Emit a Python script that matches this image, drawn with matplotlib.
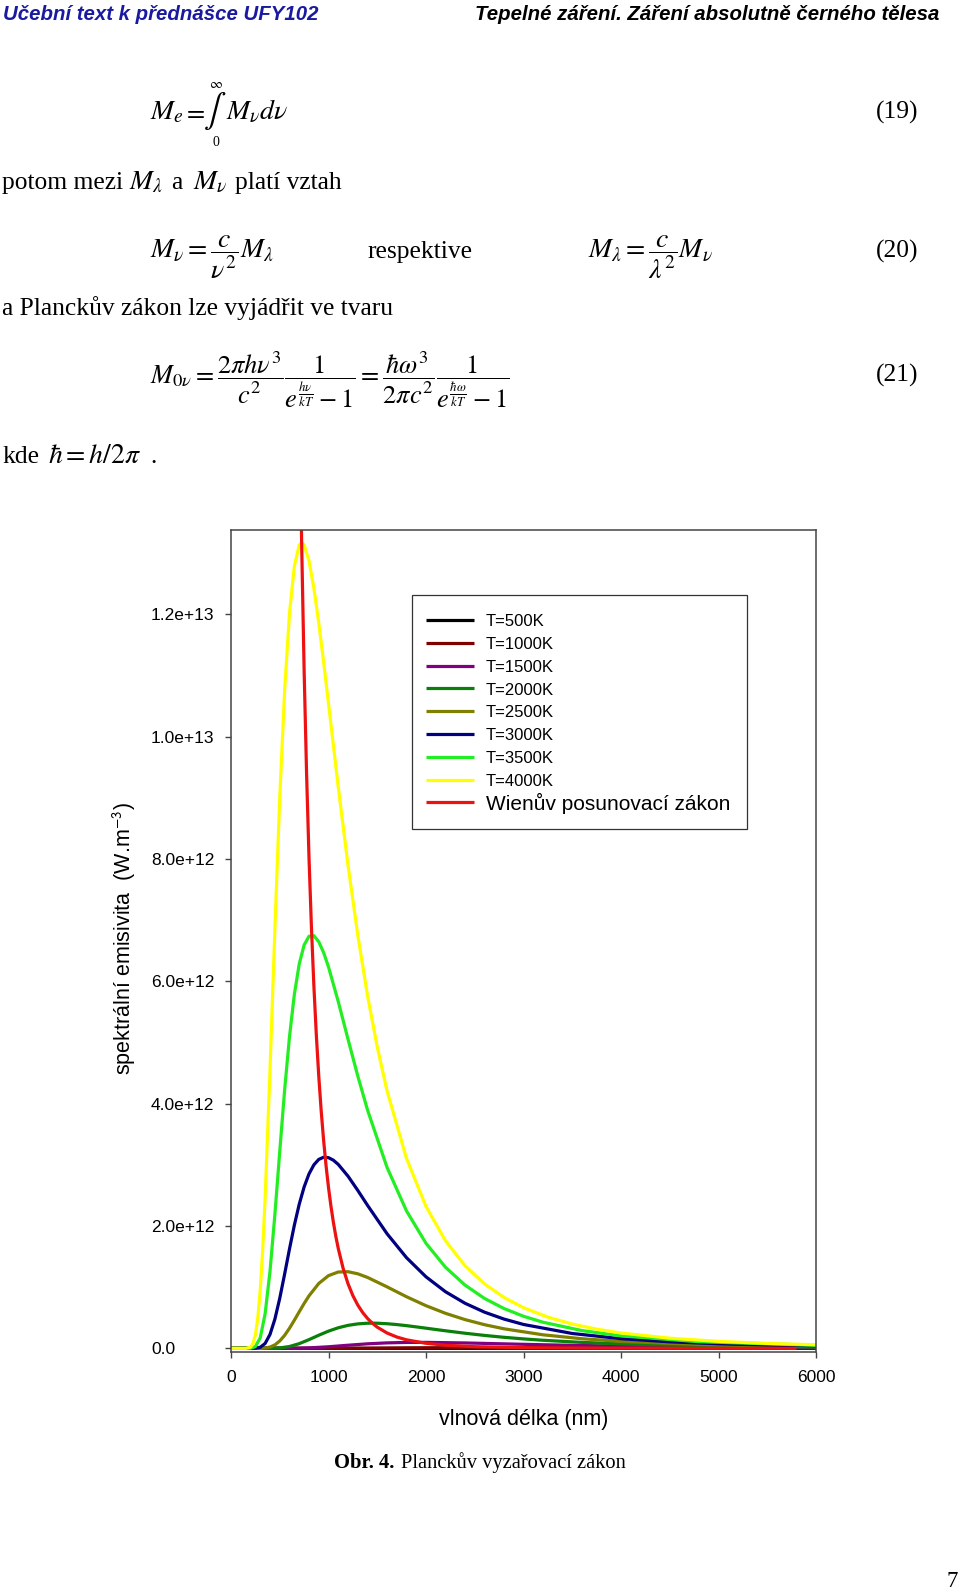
import matplotlib
matplotlib.use('Agg')
import matplotlib.pyplot as plt
from matplotlib.lines import Line2D
from matplotlib.patches import Rectangle

# ---------------- data (spectral exitance, units of 1e12 W.m^-3) ----------------
lam_500 = [0, 1600, 2000, 2400, 2800, 3200, 3600, 4000, 4400, 4800, 5200, 5600, 5800, 6000]
M_500 = [0, 5.5e-7, 6.6e-6, 2.92e-5, 7.48e-5, 1.387e-4, 2.091e-4, 2.747e-4, 3.282e-4,
         3.667e-4, 3.904e-4, 4.009e-4, 4.021e-4, 4.009e-4]

lam_1000 = [0, 800, 1000, 1200, 1400, 1600, 1800, 2000, 2200, 2400, 2600, 2800, 2900, 3000,
            3200, 3400, 3600, 3800, 4000, 4400, 4800, 5200, 5600, 6000]
M_1000 = [0, 1.77e-5, 2.111e-4, 9.332e-4, 2.394e-3, 4.438e-3, 6.690e-3, 8.789e-3, 1.0503e-2,
          1.1736e-2, 1.2492e-2, 1.2829e-2, 1.2866e-2, 1.2829e-2, 1.2575e-2, 1.2140e-2,
          1.1585e-2, 1.0958e-2, 1.0297e-2, 8.964e-3, 7.715e-3, 6.601e-3, 5.635e-3, 4.811e-3]

lam_1500 = [0, 400, 600, 700, 800, 1000, 1200, 1400, 1600, 1800, 2000, 2400, 2800, 3200, 3600,
            4000, 4400, 4800, 5200, 6000]
M_1500 = [0, 1.4e-6, 5.488e-4, 2.492e-3, 7.087e-3, 0.02555, 0.05080, 0.07368, 0.08912, 0.09650,
          0.09742, 0.08797, 0.07309, 0.05858, 0.04632, 0.03654, 0.02892, 0.02303, 0.01848, 0.01219]

lam_2000 = [0, 300, 400, 500, 600, 700, 800, 900, 1000, 1100, 1200, 1300, 1400, 1450, 1500, 1600,
            1700, 1800, 1900, 2000, 2200, 2400, 2600, 2800, 3000, 3200, 3600, 4000, 4400, 4800,
            5200, 5600, 6000]
M_2000 = [0, 0.000006, 0.000565, 0.006755, 0.029863, 0.076616, 0.142001, 0.214070, 0.281248,
          0.336093, 0.375546, 0.399731, 0.410525, 0.411709, 0.410534, 0.402400, 0.388474,
          0.370717, 0.350669, 0.329491, 0.286848, 0.246867, 0.211226, 0.180330, 0.153965,
          0.131658, 0.097043, 0.072493, 0.054944, 0.042246, 0.032929, 0.025998, 0.020770]

lam_2500 = [0, 250, 300, 350, 400, 450, 500, 550, 600, 650, 700, 750, 800, 900, 1000, 1100, 1200,
            1300, 1400, 1600, 1800, 2000, 2200, 2400, 2600, 2800, 3200, 3600, 4000, 4800, 5400, 6000]
M_2500 = [0, 0.00004, 0.000718, 0.005155, 0.020614, 0.056583, 0.120040, 0.212238, 0.328553,
          0.460542, 0.598506, 0.733457, 0.858301, 1.060283, 1.188525, 1.247998, 1.252852,
          1.218789, 1.159561, 1.005527, 0.843838, 0.697197, 0.572549, 0.469863, 0.386506,
          0.319251, 0.221230, 0.156806, 0.113635, 0.063385, 0.042820, 0.029895]

lam_3000 = [0, 200, 250, 300, 350, 400, 450, 500, 550, 600, 650, 700, 750, 800, 850, 900, 950,
            1000, 1050, 1100, 1200, 1300, 1400, 1600, 1800, 2000, 2200, 2400, 2600, 2800, 3000,
            3500, 4000, 4500, 5000, 5500, 6000]
M_3000 = [0, 0.000045, 0.001786, 0.017561, 0.079734, 0.226775, 0.476885, 0.817544, 1.214203,
          1.625597, 2.015393, 2.357829, 2.638324, 2.851799, 2.999762, 3.088971, 3.124348,
          3.117496, 3.075918, 3.007295, 2.815131, 2.583114, 2.339021, 1.874648, 1.482227,
          1.169170, 0.925320, 0.736922, 0.591341, 0.478382, 0.390183, 0.242611, 0.157722,
          0.106551, 0.074389, 0.053422, 0.039312]

lam_3500 = [0, 150, 200, 250, 300, 350, 400, 450, 500, 550, 600, 650, 700, 750, 800, 850, 900,
            950, 1000, 1100, 1200, 1300, 1400, 1600, 1800, 2000, 2200, 2400, 2600, 2800, 3000,
            3200, 3600, 4000, 4800, 6000]
M_3500 = [0, 0.000006, 0.001385, 0.027723, 0.172337, 0.564694, 1.257505, 2.186139, 3.218908,
          4.221551, 5.096198, 5.789539, 6.285766, 6.594121, 6.737979, 6.746330, 6.648278,
          6.470642, 6.236395, 5.669831, 5.055546, 4.454748, 3.898384, 2.959765, 2.246707,
          1.717008, 1.325148, 1.033972, 0.815817, 0.650704, 0.524378, 0.426709, 0.290162,
          0.203606, 0.108397, 0.048900]

lam_4000 = [0, 150, 200, 225, 250, 275, 300, 325, 350, 400, 450, 500, 550, 600, 650, 700, 725,
            750, 800, 850, 900, 950, 1000, 1100, 1200, 1300, 1400, 1500, 1600, 1800, 2000, 2200,
            2400, 2600, 2800, 3000, 3250, 3500, 3750, 4000, 4500, 5000, 5500, 6000]
M_4000 = [0, 0.0002, 0.01808, 0.07400, 0.2162, 0.4964, 0.9556, 1.6107, 2.4517, 4.5440, 6.850,
          9.000, 10.755, 12.017, 12.791, 13.137, 13.175, 13.137, 12.877, 12.431, 11.863, 11.221,
          10.544, 9.179, 7.900, 6.759, 5.771, 4.927, 4.213, 3.105, 2.320, 1.758, 1.352, 1.054,
          0.832, 0.6646, 0.5097, 0.3970, 0.3135, 0.2507, 0.1657, 0.1137, 0.0805, 0.0586]

lam_wien = [700, 725, 750, 775, 800, 825, 850, 875, 900, 925, 950, 975, 1000, 1025, 1050, 1075,
            1100, 1150, 1200, 1250, 1300, 1350, 1400, 1450, 1500, 1600, 1700, 1800, 2000, 2200,
            2500, 3000, 3500, 4000, 5000, 5800]
M_wien = [15.648, 13.130, 11.083, 9.407, 8.026, 6.882, 5.927, 5.128, 4.454, 3.884, 3.399, 2.985,
          2.630, 2.325, 2.061, 1.832, 1.633, 1.308, 1.057, 0.8618, 0.7083, 0.5865, 0.4890,
          0.4103, 0.3463, 0.2508, 0.1852, 0.1392, 0.08219, 0.05103, 0.02693, 0.01082, 0.005007,
          0.002568, 0.000842, 0.000401]

series_labels = ['T=500K', 'T=1000K', 'T=1500K', 'T=2000K', 'T=2500K', 'T=3000K', 'T=3500K',
                 'T=4000K', 'Wienův posunovací zákon']
series_colors = ['#000000', '#800000', '#800080', '#0a800a', '#808000', '#000080', '#22ee22',
                 '#ffff00', '#ee1111']
series_x = [lam_500, lam_1000, lam_1500, lam_2000, lam_2500, lam_3000, lam_3500, lam_4000, lam_wien]
series_y = [M_500, M_1000, M_1500, M_2000, M_2500, M_3000, M_3500, M_4000, M_wien]

x_ticks = [0, 1000, 2000, 3000, 4000, 5000, 6000]
x_tick_labels = ['0', '1000', '2000', '3000', '4000', '5000', '6000']
y_ticks = [0, 2, 4, 6, 8, 10, 12]
y_tick_labels = ['0.0', '2.0e+12', '4.0e+12', '6.0e+12', '8.0e+12', '1.0e+13', '1.2e+13']

# ---------------- figure ----------------
W, H = 960, 1590
plt.rcParams['font.family'] = 'Liberation Sans'
plt.rcParams['mathtext.fontset'] = 'stix'
fig = plt.figure(figsize=(W / 100, H / 100), dpi=100)
fig.patch.set_facecolor('white')

SERIF = 'Liberation Serif'
SANS = 'Liberation Sans'


def T(x, y, s, size=18.4, ha='left', va='baseline', family=SERIF, **kw):
    return fig.text(x / W, 1 - y / H, s, fontsize=size, ha=ha, va=va, family=family, **kw)


# header
T(3, 20.5, 'Učební text k přednášce UFY102', size=14.7, family=SANS, weight='bold',
  style='italic', color='#1a1aa0')
T(939, 20.5, 'Tepelné záření. Záření absolutně černého tělesa', size=14.7, ha='right',
  family=SANS, weight='bold', style='italic', color='black')

# equation (19)
T(150, 119, r'$M_e$', size=20)
T(183, 119, r'$=$', size=19)
T(215, 111, r'$\int$', size=24, ha='center', va='center')
T(216, 84, r'$\infty$', size=10, ha='center', va='center')
T(216, 143, '0', size=10, ha='center', va='center')
T(226, 119, r'$M_\nu d\nu$', size=20)
T(918, 119, '(19)', ha='right')

# text line with inline symbols
T(2, 189, 'potom mezi')
T(129, 189, r'$M_\lambda$', size=20)
T(171, 189, 'a')
T(193, 189, r'$M_\nu$', size=20)
T(235, 189, 'platí vztah')

# equation (20)
T(150, 258, r'$M_\nu = \dfrac{c}{\nu^2}M_\lambda$', size=20)
T(367, 258, 'respektive')
T(588, 258, r'$M_\lambda = \dfrac{c}{\lambda^2}M_\nu$', size=20)
T(918, 258, '(20)', ha='right')

T(2, 315, 'a Planckův zákon lze vyjádřit ve tvaru')

# equation (21)
T(150, 384, r'$M_{0\nu} = \dfrac{2\pi h\nu^3}{c^2}\dfrac{1}{e^{\frac{h\nu}{kT}}-1}'
  r' = \dfrac{\hbar\omega^3}{2\pi c^2}\dfrac{1}{e^{\frac{\hbar\omega}{kT}}-1}$', size=19)
T(918, 382, '(21)', ha='right')

T(2, 463, 'kde')
T(48, 463, r'$\hbar = h/2\pi$', size=20)
T(150, 463, '.')

# caption and page number
T(334, 1468, 'Obr. 4.', size=14.8, weight='bold')
T(401, 1468, 'Planckův vyzařovací zákon', size=14.8)
T(958, 1587, '7', size=16.5, ha='right')

# ---------------- chart ----------------
AX_L, AX_R, AX_T, AX_B = 231, 816, 530, 1352
ax = fig.add_axes([AX_L / W, 1 - AX_B / H, (AX_R - AX_L) / W, (AX_B - AX_T) / H])
LW = 2.3
for xs, ys, c in zip(series_x, series_y, series_colors):
    ax.plot(xs, ys, color=c, lw=LW, solid_joinstyle='round', solid_capstyle='butt')

ax.set_xlim(0, 6000)
ax.set_ylim(-0.06, 13.38)
ax.set_xticks(x_ticks)
ax.set_xticklabels(x_tick_labels)
ax.set_yticks(y_ticks)
ax.set_yticklabels(y_tick_labels)
ax.tick_params(axis='both', direction='out', length=4.3, width=1.0, color='#444444',
               labelsize=12.5, top=False, right=False)
ax.tick_params(axis='x', pad=8.8)
# y tick labels are left-aligned at a common left edge (x = 151 px)
ax.tick_params(axis='y', pad=(AX_L - 6 - 151) * 0.72)
for lab in ax.get_yticklabels():
    lab.set_horizontalalignment('left')
for s in ax.spines.values():
    s.set_color('#444444')
    s.set_linewidth(1.1)

ax.set_xlabel('vlnová délka (nm)', fontsize=15.5)
ax.xaxis.set_label_coords(0.5, (AX_B - 1419) / (AX_B - AX_T))
ax.xaxis.label.set_va('center')
ax.set_ylabel(r'spektrální emisivita  (W.m$^{\mathsf{-3}}$)', fontsize=15.5)
ax.yaxis.set_label_coords((124 - AX_L) / (AX_R - AX_L), (AX_B - 938) / (AX_B - AX_T))
ax.yaxis.label.set_va('center')


def A(px, py):
    return (px - AX_L) / (AX_R - AX_L), (AX_B - py) / (AX_B - AX_T)


# legend box drawn in axes coordinates
x0, y0 = A(412, 829)
x1, y1 = A(747, 595)
ax.add_patch(Rectangle((x0, y0), x1 - x0, y1 - y0, transform=ax.transAxes, facecolor='white',
                       edgecolor='#333333', lw=0.9, zorder=5, clip_on=False))
for i, (lab, c) in enumerate(zip(series_labels, series_colors)):
    ly = 620 + 22.8 * i
    xa, ya = A(426, ly)
    xb, _ = A(474, ly)
    ax.add_line(Line2D([xa, xb], [ya, ya], transform=ax.transAxes, color=c, lw=LW, zorder=6,
                       clip_on=False, solid_capstyle='butt'))
    if i < len(series_labels) - 1:
        tx, ty = A(486, ly + 6.2)
        ax.text(tx, ty, lab, transform=ax.transAxes, fontsize=12, va='baseline', ha='left',
                zorder=7)
    else:
        tx, ty = A(486, ly + 7.5)
        ax.text(tx, ty, lab, transform=ax.transAxes, fontsize=15, va='baseline', ha='left',
                zorder=7)

fig.savefig('out.png', dpi=100, facecolor='white')
